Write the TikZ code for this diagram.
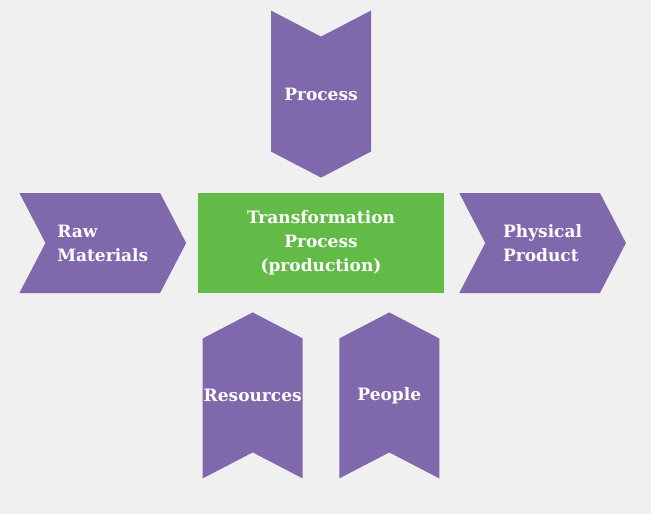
\documentclass[tikz,border=0pt]{standalone}
\usepackage{fontspec}
\setmainfont{DejaVu Serif}
\usetikzlibrary{shapes.symbols}
\usetikzlibrary{positioning}
\definecolor{chevpurple}{RGB}{128,104,172}
\definecolor{prodgreen}{RGB}{98,187,70}
\definecolor{bggray}{RGB}{240,240,240}

\begin{document}
\begin{tikzpicture}[node distance=15pt, auto,
    label font/.style={text=white, font=\bfseries\fontsize{17}{24}\selectfont},
    chevron/.style={signal, fill=chevpurple, draw=none, label font, signal pointer angle=125, inner sep=0pt},
    across/.style={chevron, align=left, signal from=west, signal to=east, minimum width=166.7pt, minimum height=100pt},
    downward/.style={chevron, text width=100pt, align=center, signal from=north, signal to=south, minimum height=167pt},
    upward/.style={chevron, text width=100pt, align=center, signal from=south, signal to=north, minimum height=166pt}]
    \fill[bggray] (0,0) rectangle (651pt,-514pt);
    \useasboundingbox (0,0) rectangle (651pt,-514pt);
    \node[align=center, fill=prodgreen, label font, minimum width=245.7pt, minimum height=100pt, inner sep=0pt] (transformation) at (321pt,-243pt) {Transformation \\ Process \\ (production)};
    \node[across] (raw_materials) [left=11.6pt of transformation] {Raw \\ Materials};
    \node[across] (physical_product) [right=41pt of transformation] {Physical \\ Product};
    \node[downward] (process) [above=15pt of transformation] {Process};
    \node[upward] (resources) [below=19pt of transformation, xshift=-68.3pt] {Resources};
    \node[upward] (people) [below=19pt of transformation, xshift=68.3pt] {People};
\end{tikzpicture}
\end{document}
